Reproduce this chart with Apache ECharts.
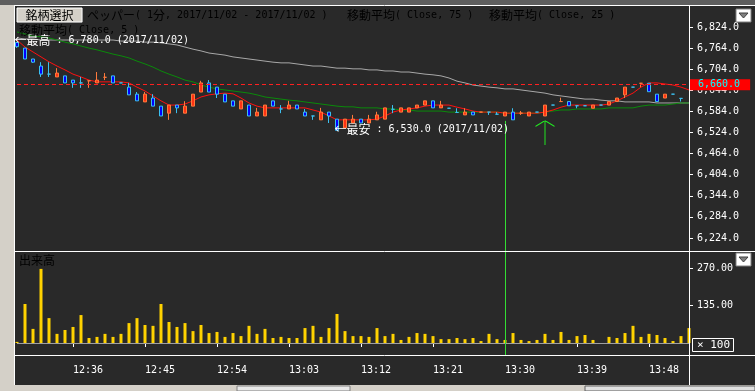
<!DOCTYPE html>
<html><head><meta charset="utf-8">
<script src="https://cdn.jsdelivr.net/npm/echarts@6/dist/echarts.min.js"></script>
<style>html,body{margin:0;padding:0;background:#292929;}#c{width:755px;height:391px;}</style>
</head><body><div id="c"></div>
<script>
// ---------- data ----------
const times = ['12:29','12:30','12:31','12:32','12:33','12:34','12:35','12:36','12:37','12:38','12:39','12:40','12:41','12:42','12:43','12:44','12:45','12:46','12:47','12:48','12:49','12:50','12:51','12:52','12:53','12:54','12:55','12:56','12:57','12:58','12:59','13:00','13:01','13:02','13:03','13:04','13:05','13:06','13:07','13:08','13:09','13:10','13:11','13:12','13:13','13:14','13:15','13:16','13:17','13:18','13:19','13:20','13:21','13:22','13:23','13:24','13:25','13:26','13:27','13:28','13:29','13:30','13:31','13:32','13:33','13:34','13:35','13:36','13:37','13:38','13:39','13:40','13:41','13:42','13:43','13:44','13:45','13:46','13:47','13:48','13:49','13:50','13:51','13:52','13:53'];
const opens  = [6780,6764,6733,6713,6690,6682,6685,6673,6665,6671,6665,6681,6685,6665,6653,6633,6611,6622,6599,6579,6602,6579,6599,6639,6665,6653,6633,6614,6591,6602,6571,6571,6614,6591,6591,6602,6582,6571,6560,6582,6562,6537,6551,6562,6551,6560,6562,6590,6582,6582,6594,6602,6614,6594,6593,6581,6574,6582,6582,6582,6576,6571,6582,6579,6571,6582,6571,6602,6612,6612,6600,6600,6593,6602,6602,6612,6631,6653,6664,6664,6633,6622,6633,6621,null];
const closes = [6768,6733,6724,6690,6690,6693,6665,6665,6665,6671,6673,6681,6665,6665,6631,6614,6633,6599,6571,6602,6594,6599,6633,6665,6639,6633,6611,6599,6614,6571,6582,6602,6599,6591,6602,6591,6571,6571,6582,6571,6530,6562,6562,6551,6562,6574,6594,6590,6594,6594,6602,6614,6594,6602,6593,6581,6582,6574,6582,6582,6576,6582,6560,6579,6582,6582,6602,6602,6612,6600,6600,6600,6602,6602,6612,6622,6653,6653,6664,6640,6612,6633,6633,6621,null];
const lows   = [6765,6733,6722,6682,6682,6682,6665,6651,6651,6651,6665,6673,6665,6665,6631,6614,6611,6599,6571,6560,6579,6579,6599,6639,6639,6622,6611,6599,6591,6571,6571,6571,6599,6579,6591,6591,6571,6560,6560,6551,6530,6537,6551,6551,6551,6560,6562,6579,6582,6582,6594,6602,6594,6594,6593,6581,6574,6574,6582,6574,6576,6571,6560,6574,6571,6582,6571,6602,6612,6600,6593,6600,6593,6602,6602,6612,6622,6653,6653,6640,6612,6622,6633,6612,null];
const highs  = [6780,6764,6733,6724,6724,6707,6685,6673,6682,6671,6696,6693,6685,6665,6665,6639,6639,6633,6599,6602,6602,6613,6633,6671,6673,6653,6633,6614,6614,6602,6594,6602,6614,6602,6614,6602,6591,6571,6594,6582,6562,6562,6574,6562,6574,6583,6594,6602,6594,6594,6602,6614,6614,6614,6593,6593,6593,6582,6582,6582,6582,6582,6593,6585,6582,6582,6602,6602,6623,6612,6600,6600,6602,6602,6612,6622,6653,6653,6664,6664,6633,6633,6633,6621,null];
const volume = [4,141,51,268,90,33,47,58,101,18,22,33,22,33,72,90,65,62,141,76,58,72,43,65,36,40,22,36,25,62,33,51,18,22,18,18,54,62,22,54,105,43,25,25,22,54,25,33,11,22,36,33,25,14,14,18,14,18,7,33,14,11,36,11,7,11,33,11,40,11,25,29,11,0,22,18,36,62,22,33,29,18,7,25,54];
const ma5  = [6787,6767,6753,6739,6725,6713,6702,6690,6682,6673,6668,6668,6668,6668,6665,6653,6642,6628,6614,6602,6602,6605,6614,6625,6631,6634,6636,6634,6622,6608,6599,6594,6594,6594,6594,6594,6594,6588,6582,6571,6560,6560,6560,6560,6560,6562,6571,6582,6588,6591,6594,6599,6602,6602,6602,6596,6591,6585,6582,6582,6582,6579,6579,6579,6579,6579,6582,6588,6596,6602,6602,6602,6602,6602,6605,6614,6625,6636,6653,6665,6665,6662,6659,6653,6645];
const ma25 = [6810,6804,6798,6796,6793,6787,6781,6776,6770,6764,6759,6753,6747,6742,6736,6727,6719,6710,6699,6690,6682,6673,6668,6659,6653,6648,6645,6642,6639,6636,6631,6625,6622,6619,6616,6614,6611,6608,6605,6602,6599,6597,6597,6594,6594,6594,6591,6591,6588,6588,6585,6585,6585,6585,6582,6582,6582,6582,6582,6582,6582,6579,6579,6579,6579,6579,6582,6585,6588,6588,6591,6591,6591,6591,6594,6594,6594,6594,6599,6602,6602,6602,6605,6608,6608];
const ma75 = [6793,6790,6790,6787,6787,6787,6787,6787,6787,6787,6787,6787,6787,6784,6784,6784,6781,6781,6779,6776,6773,6767,6761,6756,6750,6747,6744,6739,6736,6733,6730,6727,6724,6722,6722,6719,6716,6713,6713,6710,6707,6707,6705,6705,6702,6702,6699,6699,6696,6696,6693,6690,6688,6685,6679,6670,6665,6659,6656,6653,6651,6648,6648,6645,6642,6639,6636,6631,6628,6625,6622,6619,6619,6616,6614,6614,6611,6611,6611,6611,6608,6608,6608,6608,6608];
const priceTicks = [6224,6284,6344,6404,6464,6524,6584,6644,6704,6764,6824];
const volTicks = [135,270];
const timeLabels = ['12:36','12:45','12:54','13:03','13:12','13:21','13:30','13:39','13:48'];
const lastPrice = 6660;
const highPoint = {time:'12:29', price:6780, text:'←最高 : 6,780.0 (2017/11/02)'};
const lowPoint  = {time:'13:09', price:6530, text:'←最安 : 6,530.0 (2017/11/02)'};
const signalTime = '13:35', signalPrice = 6524;
const cursorTime = '13:30', cursorTop = 6557;

// ---------- style ----------
const BG = '#292929';
const UP_FILL = '#ff3214', UP_BORDER = '#ff7a3c';
const DN_FILL = '#0000ff', DN_BORDER = '#3cc0f0';
const FA = '"DejaVu Sans Mono","Liberation Mono",monospace';
const FJ = '"Noto Sans CJK JP","Noto Sans CJK SC",sans-serif';
const rich = {
  a:{fontFamily:FA,fontSize:10,color:'#fff'},
  j:{fontFamily:FJ,fontSize:12,color:'#fff'}
};
function rt(s){
  let out='',cur='',t0=null;
  for(const ch of s){const t=ch.charCodeAt(0)<128?'a':'j'; if(t!==t0&&cur){out+='{'+t0+'|'+cur+'}';cur='';} t0=t; cur+=ch;}
  if(cur) out+='{'+t0+'|'+cur+'}';
  return out;
}
const fmtPrice = v => v.toLocaleString('en-US',{minimumFractionDigits:1,maximumFractionDigits:1});

const candleData = times.map((t,i)=>{
  if(opens[i]==null) return '-';
  const item = {value:[opens[i],closes[i],lows[i],highs[i]]};
  if(opens[i]===closes[i]){
    const up = i>0 && closes[i] > closes[i-1];
    const c = up ? UP_BORDER : DN_BORDER;
    item.itemStyle = {borderColor:c,borderColor0:c,borderColorDoji:c};
  }
  return item;
});

const iCursor = times.indexOf(cursorTime);

function textEl(x,y,s,extra){
  return Object.assign({type:'text',x:x,y:y,z:110,style:{text:rt(s),rich:rich,verticalAlign:'middle',align:'left'}},extra||{});
}
function wline(x1,y1,x2,y2,c){return {type:'line',z:105,shape:{x1,y1,x2,y2},style:{stroke:c||'#ffffff',lineWidth:1}};}
function dropBtn(x,y){return [
  {type:'rect',z:110,shape:{x:x,y:y,width:15,height:13},style:{fill:'#ffffff',stroke:'#808080',lineWidth:1}},
  {type:'polygon',z:111,shape:{points:[[x+3,y+4],[x+12,y+4],[x+7.5,y+9]]},style:{fill:'#808080',stroke:'#404040',lineWidth:1}}
];}

const chart = echarts.init(document.getElementById('c'),null,{renderer:'canvas'});
chart.setOption({
  backgroundColor:BG,
  animation:false,
  grid:[
    {left:17,right:66,top:7,height:244},
    {left:17,right:66,top:251,height:104}
  ],
  xAxis:[
    {type:'category',gridIndex:0,data:times,boundaryGap:false,axisLine:{show:false},axisTick:{show:false},axisLabel:{show:false},splitLine:{show:false}},
    {type:'category',gridIndex:1,data:times,boundaryGap:false,axisLine:{show:false},
      axisTick:{show:true,length:4,interval:(i,v)=>timeLabels.includes(v),lineStyle:{color:'#ffffff'}},
      axisLabel:{interval:(i,v)=>timeLabels.includes(v),color:'#ffffff',fontFamily:FA,fontSize:10,align:'left',margin:10},
      splitLine:{show:false}}
  ],
  yAxis:[
    {type:'value',gridIndex:0,position:'right',min:6187,max:6880.9,scale:true,
      axisLine:{show:false},splitLine:{show:false},
      axisTick:{show:true,length:4,customValues:priceTicks,lineStyle:{color:'#ffffff'}},
      axisLabel:{customValues:priceTicks,formatter:fmtPrice,color:'#ffffff',fontFamily:FA,fontSize:10,margin:8}},
    {type:'value',gridIndex:1,position:'right',min:-43.4,max:332.7,
      axisLine:{show:false},splitLine:{show:false},
      axisTick:{show:true,length:4,customValues:volTicks,lineStyle:{color:'#ffffff'}},
      axisLabel:{customValues:volTicks,formatter:v=>v.toFixed(2),color:'#ffffff',fontFamily:FA,fontSize:10,margin:8}}
  ],
  series:[
    {type:'line',name:'MA75',xAxisIndex:0,yAxisIndex:0,data:ma75,symbol:'none',z:2,lineStyle:{color:'#a8a8a8',width:1}},
    {type:'line',name:'MA25',xAxisIndex:0,yAxisIndex:0,data:ma25,symbol:'none',z:2,lineStyle:{color:'#0a8a0a',width:1}},
    {type:'line',name:'MA5',xAxisIndex:0,yAxisIndex:0,data:ma5,symbol:'none',z:2,lineStyle:{color:'#ff1010',width:1}},
    {type:'candlestick',xAxisIndex:0,yAxisIndex:0,data:candleData,barWidth:4,clip:false,z:4,
      itemStyle:{color:UP_FILL,color0:DN_FILL,borderColor:UP_BORDER,borderColor0:DN_BORDER,borderColorDoji:DN_BORDER,borderWidth:1},
      markLine:{silent:true,symbol:'none',animation:false,
        data:[
          {yAxis:lastPrice,lineStyle:{color:'#ff2020',type:[4,3],width:1},
            label:{show:true,position:'end',distance:1,formatter:fmtPrice(lastPrice),color:'#00ffff',backgroundColor:'#ff0000',fontFamily:FA,fontSize:10,padding:[1,10,0,8]}},
          [{coord:[iCursor,cursorTop],lineStyle:{color:'#33dd33',type:'solid',width:1},label:{show:false}},{coord:[iCursor,6187]}]
        ]},
      markPoint:{silent:true,animation:false,
        data:[
          {coord:[times.indexOf(highPoint.time),highPoint.price],symbol:'circle',symbolSize:1,itemStyle:{color:'rgba(0,0,0,0)'},
            label:{show:true,position:'right',distance:0,offset:[-3,-2],formatter:rt(highPoint.text),rich:rich}},
          {coord:[times.indexOf(lowPoint.time),lowPoint.price],symbol:'circle',symbolSize:1,itemStyle:{color:'rgba(0,0,0,0)'},
            label:{show:true,position:'right',distance:0,offset:[-3,-1],formatter:rt(lowPoint.text),rich:rich}},
          {coord:[times.indexOf(signalTime),signalPrice],symbol:'path://M9.5,0 L10.5,0 L10.5,26 L9.5,26 Z M10,0 L0,6 L0,7.3 L10,1.3 Z M10,0 L20,6 L20,7.3 L10,1.3 Z',
            symbolSize:[19,25],itemStyle:{color:'#22ee22'},label:{show:false}}
        ]}
    },
    {type:'bar',xAxisIndex:1,yAxisIndex:1,data:volume,barWidth:3,z:3,itemStyle:{color:'#ffd200'},
      markLine:{silent:true,symbol:'none',animation:false,
        data:[
          {yAxis:0,lineStyle:{color:'#a0a0a0',type:'solid',width:1},label:{show:false}},
          {xAxis:iCursor,lineStyle:{color:'#33dd33',type:'solid',width:1},label:{show:false}}
        ]}
    }
  ],
  graphic:[
    {type:'rect',z:100,shape:{x:0,y:0,width:755,height:5},style:{fill:'#5e5e5e'}},
    {type:'rect',z:100,shape:{x:0,y:5,width:14,height:386},style:{fill:'#d4d0c8'}},
    {type:'rect',z:100,shape:{x:0,y:385,width:755,height:6},style:{fill:'#d4d0c8'}},
    {type:'rect',z:101,shape:{x:237,y:386,width:113,height:5},style:{fill:'#e8e8e8',stroke:'#808080',lineWidth:1}},
    {type:'rect',z:101,shape:{x:585,y:386,width:170,height:5},style:{fill:'#e0e0e0',stroke:'#606060',lineWidth:1}},
    wline(14,5.5,755,5.5),
    wline(14.5,5,14.5,385),
    wline(689.5,6,689.5,385),
    wline(14,251.5,755,251.5),
    wline(14,355.5,755,355.5),
    {type:'rect',z:110,shape:{x:17,y:8,width:65,height:14},style:{fill:'#d4d0c8',stroke:'#ffffff',lineWidth:1}},
    wline(17,22.5,82,22.5,'#404040'), wline(82.5,8,82.5,23,'#404040'),
    {type:'text',z:112,x:49.5,y:15.5,style:{text:'銘柄選択',fontFamily:FJ,fontSize:12,fill:'#000000',align:'center',verticalAlign:'middle'}},
    textEl(87,15.5,'ペッパー( 1分, 2017/11/02 - 2017/11/02 )'),
    textEl(347,15.5,'移動平均( Close, 75 )'),
    textEl(489,15.5,'移動平均( Close, 25 )'),
    textEl(19,30,'移動平均( Close, 5 )'),
    textEl(19,260,'出来高'),
    ...dropBtn(736,9),
    ...dropBtn(736,253),
    {type:'rect',z:110,shape:{x:692.5,y:338.5,width:41,height:13},style:{fill:BG,stroke:'#ffffff',lineWidth:1}},
    {type:'text',z:112,x:697,y:345,style:{text:'× 100',fontFamily:FA,fontSize:11,fill:'#ffffff',verticalAlign:'middle',align:'left'}}
  ]
});
</script></body></html>
